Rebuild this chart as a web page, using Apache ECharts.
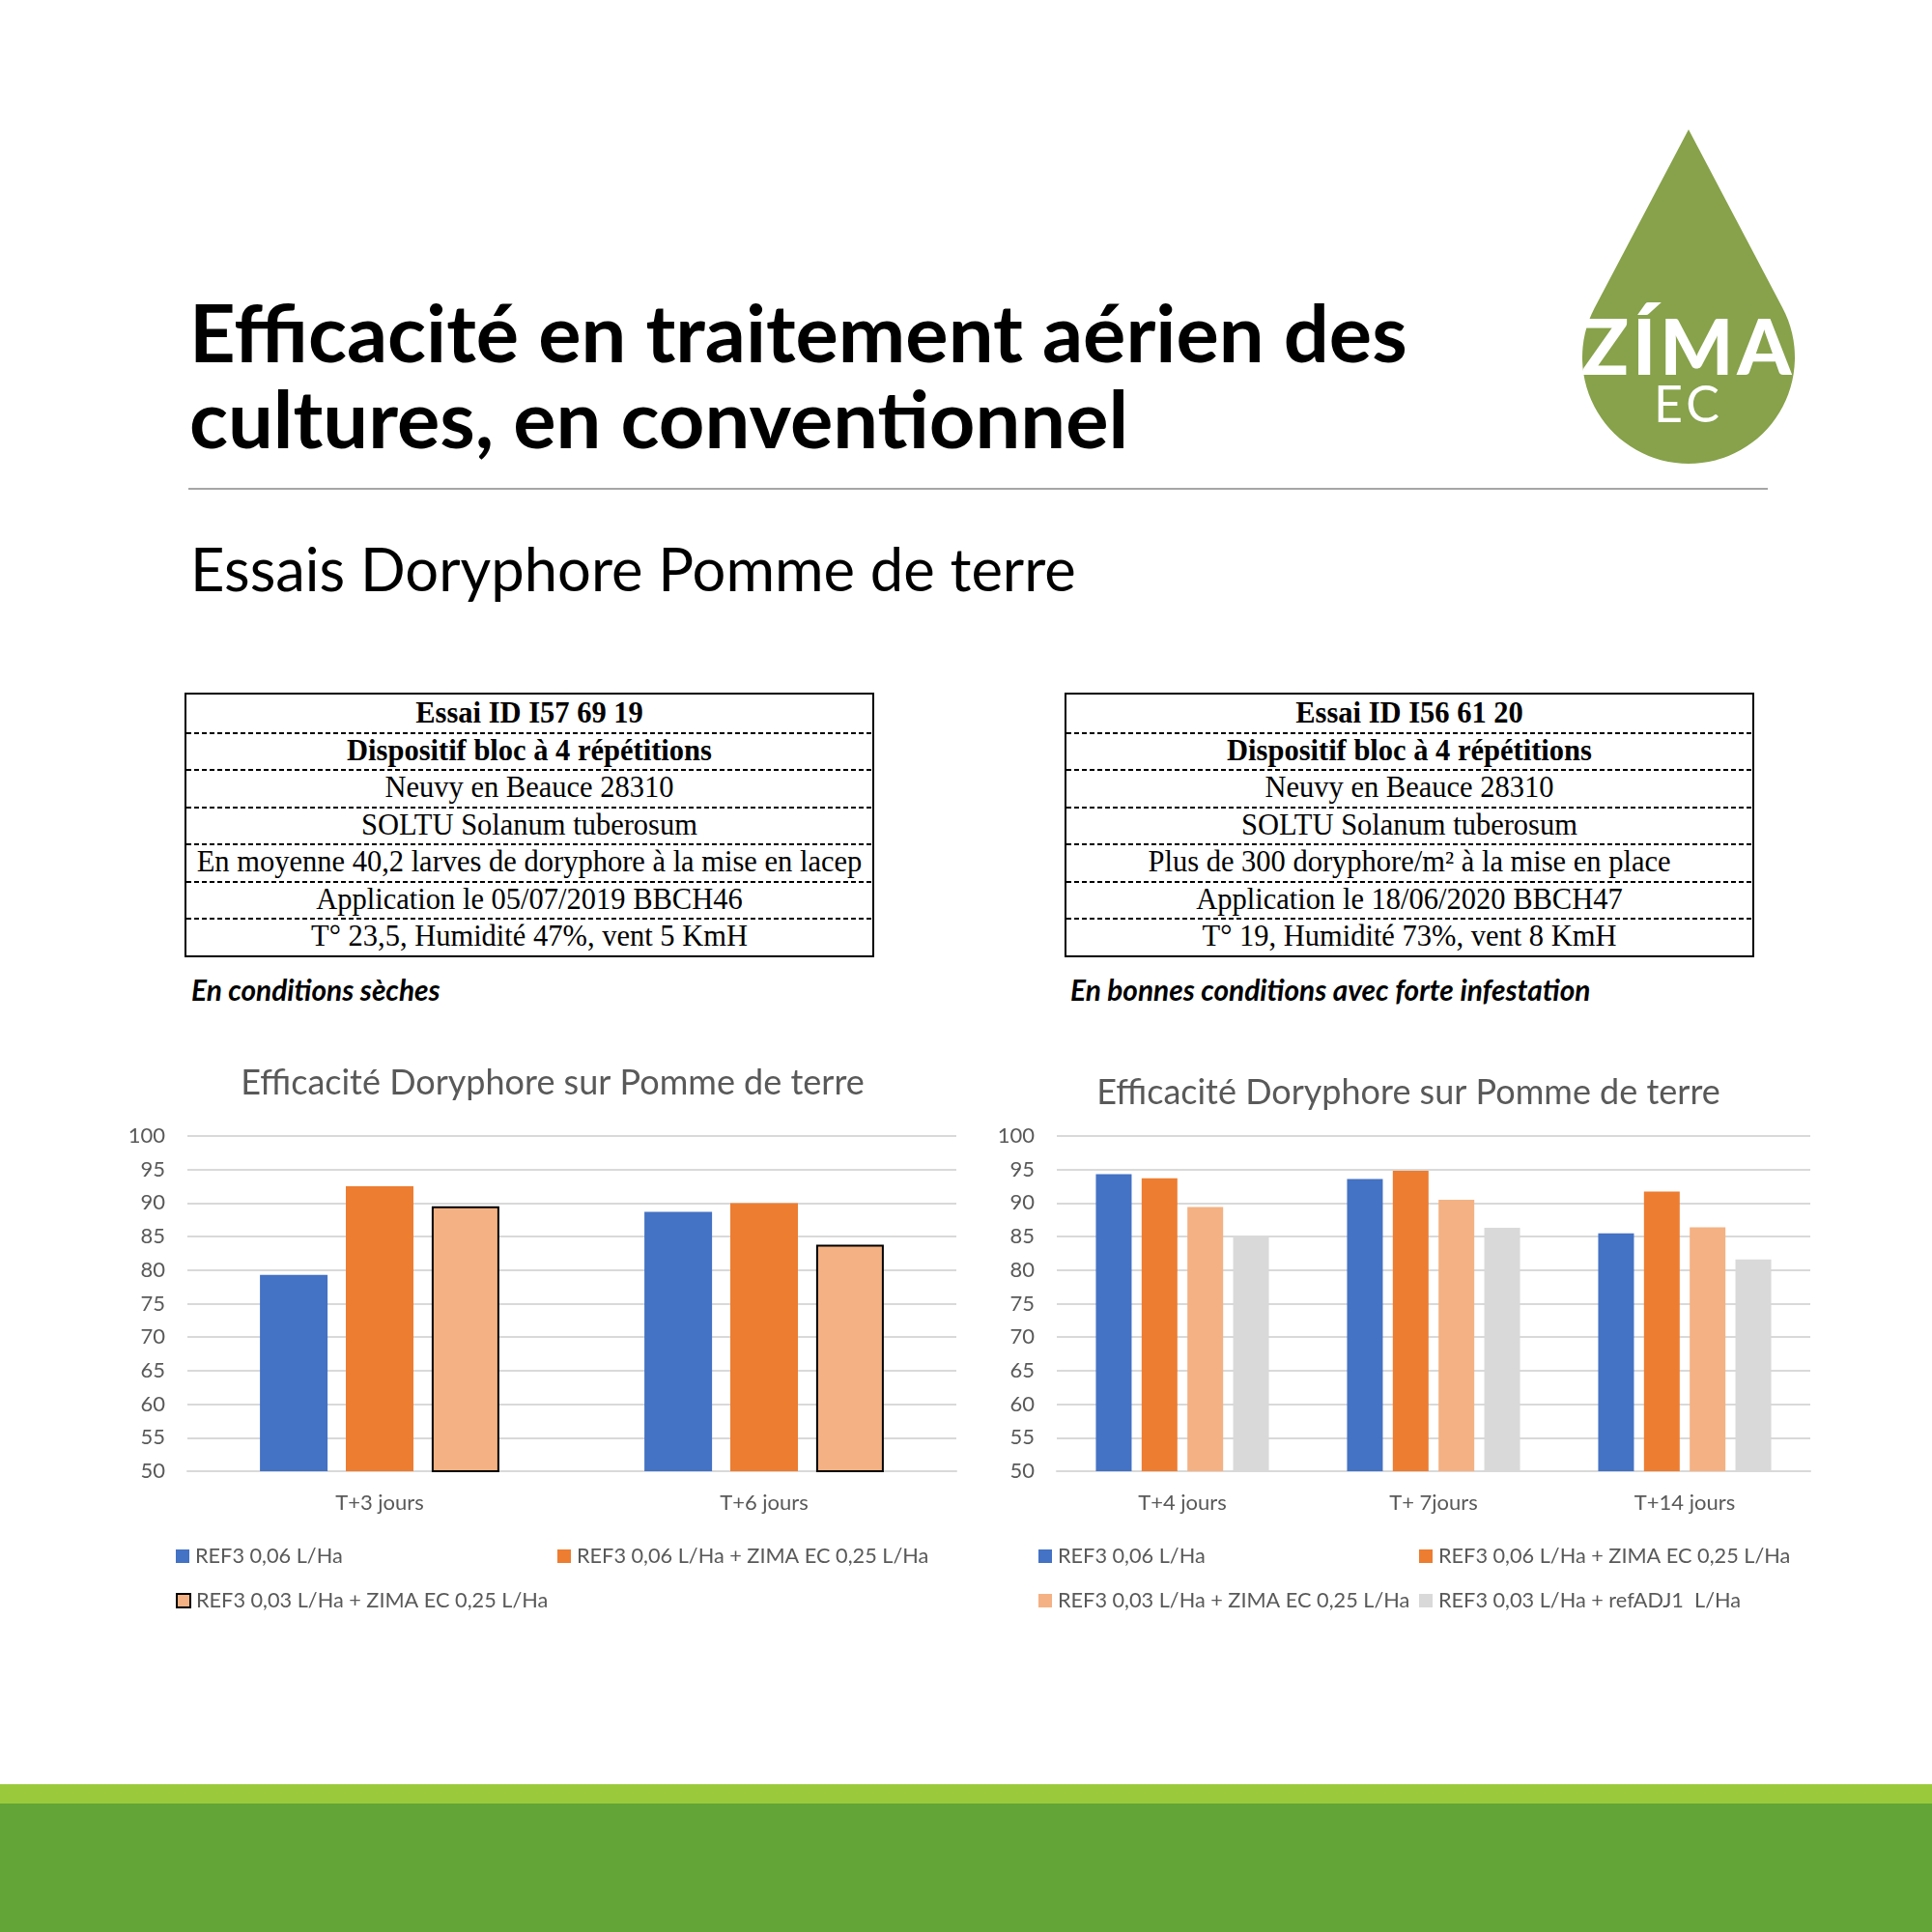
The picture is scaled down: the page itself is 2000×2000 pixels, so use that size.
<!DOCTYPE html>
<html lang="fr">
<head>
<meta charset="UTF-8">
<title>Efficacité en traitement aérien des cultures, en conventionnel</title>
<script src="https://cdn.jsdelivr.net/npm/echarts@6/dist/echarts.min.js"></script>
<style>
body{margin:0;background:#fff}
#page{position:relative;width:2000px;height:2000px;overflow:hidden;background:#fff;font-family:Lato,"Noto Sans",sans-serif}
.txt{position:absolute;white-space:nowrap;color:#000}
.title{left:196px;top:299px;font-size:83px;font-weight:700;line-height:89px}
.subtitle{left:197px;top:554px;font-size:61.5px;line-height:68px}
.rule{position:absolute;left:195px;top:505px;width:1635px;height:2px;background:#a6a6a6}
table.trial{position:absolute;top:717px;width:714px;border-collapse:collapse;border:2.5px solid #000;
  font-family:"Liberation Serif","Times New Roman",serif;font-size:30.5px;color:#000}
table.trial td{height:38.5px;padding:0;text-align:center;line-height:36px;white-space:nowrap;
  background-image:linear-gradient(to right,#000 60%,transparent 60%);background-size:8px 1.5px;
  background-repeat:repeat-x;background-position:left top}
table.trial tr:first-child td{background-image:none}
table.trial tr.b td{font-weight:700}
.note{top:1008px;font-size:29.8px;font-weight:700;font-style:italic;line-height:34px}
.chart{position:absolute;top:1080px;width:900px;height:640px}
.band1{position:absolute;left:0;top:1847px;width:2000px;height:20px;background:#9aca3c}
.band2{position:absolute;left:0;top:1867px;width:2000px;height:133px;background:#63a537}
</style>
</head>
<body>
<div id="page">
  <div class="txt title">Efficacité en traitement aérien des<br>cultures, en conventionnel</div>
  <svg style="position:absolute;left:0;top:0" width="2000" height="520">
    <path d="M1748,134 L1845.3,318.7 A110,110 0 1,1 1650.7,318.7 Z" fill="#87a24a"/>
    <text x="1748" y="388" text-anchor="middle" fill="#fff" font-family="Lato" font-weight="900" font-size="80" letter-spacing="4">ZÍMA</text>
    <text x="1748" y="437" text-anchor="middle" fill="#fff" font-family="Lato" font-weight="400" font-size="52" letter-spacing="4">EC</text>
  </svg>
  <div class="rule"></div>
  <div class="txt subtitle">Essais Doryphore Pomme de terre</div>

  <table class="trial" style="left:191px">
    <tr class="b"><td>Essai ID I57 69 19</td></tr>
    <tr class="b"><td>Dispositif bloc à 4 répétitions</td></tr>
    <tr><td>Neuvy en Beauce 28310</td></tr>
    <tr><td>SOLTU Solanum tuberosum</td></tr>
    <tr><td>En moyenne 40,2 larves de doryphore à la mise en lacep</td></tr>
    <tr><td>Application le 05/07/2019 BBCH46</td></tr>
    <tr><td>T° 23,5, Humidité 47%, vent 5 KmH</td></tr>
  </table>
  <table class="trial" style="left:1102px">
    <tr class="b"><td>Essai ID I56 61 20</td></tr>
    <tr class="b"><td>Dispositif bloc à 4 répétitions</td></tr>
    <tr><td>Neuvy en Beauce 28310</td></tr>
    <tr><td>SOLTU Solanum tuberosum</td></tr>
    <tr><td>Plus de 300 doryphore/m² à la mise en place</td></tr>
    <tr><td>Application le 18/06/2020 BBCH47</td></tr>
    <tr><td>T° 19, Humidité 73%, vent 8 KmH</td></tr>
  </table>
  <div class="txt note" style="left:198px">En conditions sèches</div>
  <div class="txt note" style="left:1108px">En bonnes conditions avec forte infestation</div>

  <div id="left" class="chart" style="left:100px"></div>
  <div id="right" class="chart" style="left:1000px"></div>

  <div class="band1"></div>
  <div class="band2"></div>
</div>
<script type="text/javascript">
// valeurs
var chartTitle = 'Efficacité Doryphore sur Pomme de terre';
var yMin = 50, yMax = 100, yStep = 5;

var leftCategories = ['T+3 jours', 'T+6 jours'];
var leftNames = ['REF3 0,06 L/Ha', 'REF3 0,06 L/Ha + ZIMA EC 0,25 L/Ha', 'REF3 0,03 L/Ha + ZIMA EC 0,25 L/Ha'];
var leftRef006 = [79.3, 88.7];
var leftRef006Zima = [92.5, 90.0];
var leftRef003Zima = [89.5, 83.8];

var rightCategories = ['T+4 jours', 'T+ 7jours', 'T+14 jours'];
var rightNames = ['REF3 0,06 L/Ha', 'REF3 0,06 L/Ha + ZIMA EC 0,25 L/Ha', 'REF3 0,03 L/Ha + ZIMA EC 0,25 L/Ha', 'REF3 0,03 L/Ha + refADJ1  L/Ha'];
var rightRef006 = [94.3, 93.6, 85.5];
var rightRef006Zima = [93.7, 94.8, 91.7];
var rightRef003Zima = [89.4, 90.5, 86.4];
var rightRef003Adj = [85.0, 86.3, 81.6];

var colors = ['#4472c4', '#ed7d31', '#f4b183', '#d9d9d9'];
var font = 'Lato';

function baseOption(titleCenter, titleTop, gridLeft, gridWidth, categories) {
    return {
        animation: false,
        textStyle: {fontFamily: font},
        title: {
            text: chartTitle,
            left: titleCenter,
            top: titleTop,
            textAlign: 'center',
            textStyle: {fontFamily: font, fontSize: 36, fontWeight: 'normal', color: '#595959'}
        },
        grid: {left: gridLeft, top: 96, width: gridWidth, height: 347},
        xAxis: {
            type: 'category',
            data: categories,
            axisLine: {lineStyle: {color: '#d9d9d9', width: 2}},
            axisTick: {show: false},
            axisLabel: {fontFamily: font, fontSize: 22, color: '#595959', margin: 22}
        },
        yAxis: {
            type: 'value',
            min: yMin,
            max: yMax,
            interval: yStep,
            axisLine: {show: false},
            axisTick: {show: false},
            splitLine: {lineStyle: {color: '#d9d9d9', width: 2}},
            axisLabel: {fontFamily: font, fontSize: 22, color: '#595959', margin: 23}
        }
    };
}

function legendAt(name, left, top) {
    return {
        data: [name],
        left: left,
        top: top,
        icon: 'rect',
        itemWidth: 14,
        itemHeight: 14,
        itemGap: 0,
        padding: 0,
        textStyle: {fontFamily: font, fontSize: 21.7, color: '#595959', padding: [0, 0, 0, 1]}
    };
}

var leftChart = echarts.init(document.getElementById('left'));
var leftOption = baseOption(467, 18, 94, 796, leftCategories);
leftOption.legend = [
    legendAt(leftNames[0], 82, 520),
    legendAt(leftNames[1], 477, 520),
    legendAt(leftNames[2], 82, 566)
];
leftOption.series = [
    {name: leftNames[0], type: 'bar', data: leftRef006, barWidth: 70, barGap: '27%', itemStyle: {color: colors[0]}},
    {name: leftNames[1], type: 'bar', data: leftRef006Zima, barWidth: 70, barGap: '27%', itemStyle: {color: colors[1]}},
    {name: leftNames[2], type: 'bar', data: leftRef003Zima, barWidth: 70, barGap: '27%', itemStyle: {color: colors[2], borderColor: '#000', borderWidth: 2}}
];
leftChart.setOption(leftOption);

var rightChart = echarts.init(document.getElementById('right'));
var rightOption = baseOption(453, 28, 94, 780, rightCategories);
rightOption.legend = [
    legendAt(rightNames[0], 75, 520),
    legendAt(rightNames[1], 469, 520),
    legendAt(rightNames[2], 75, 566),
    legendAt(rightNames[3], 469, 566)
];
rightOption.series = [
    {name: rightNames[0], type: 'bar', data: rightRef006, barWidth: 37, barGap: '28%', itemStyle: {color: colors[0]}},
    {name: rightNames[1], type: 'bar', data: rightRef006Zima, barWidth: 37, barGap: '28%', itemStyle: {color: colors[1]}},
    {name: rightNames[2], type: 'bar', data: rightRef003Zima, barWidth: 37, barGap: '28%', itemStyle: {color: colors[2]}},
    {name: rightNames[3], type: 'bar', data: rightRef003Adj, barWidth: 37, barGap: '28%', itemStyle: {color: colors[3]}}
];
rightChart.setOption(rightOption);
</script>
</body>
</html>
